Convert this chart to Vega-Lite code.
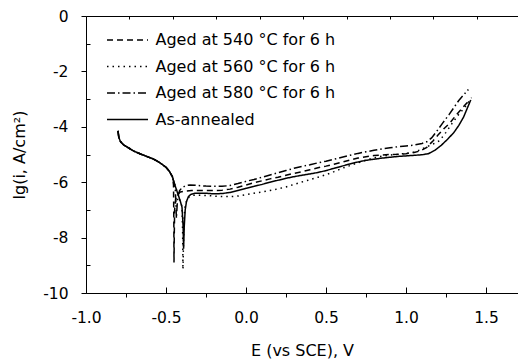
{
"$schema": "https://vega.github.io/schema/vega-lite/v6.json",
"width": 432, "height": 277,
"autosize": {"type": "none"},
"padding": {"left": 86, "top": 16, "right": 0, "bottom": 71},
"config": {
 "view": {"stroke": null},
 "font": "DejaVu Sans",
 "axis": {"grid": false, "domainColor": "#000", "tickColor": "#000", "labelColor": "#000", "titleColor": "#000", "labelFont": "DejaVu Sans", "titleFont": "DejaVu Sans", "labelFontSize": 15.5, "titleFontSize": 16, "titleFontWeight": "normal", "domainWidth": 1, "tickWidth": 1}
},
"data": {"values": [
{"s":"AA","i":0,"E":-0.800,"lg":-4.15},{"s":"AA","i":1,"E":-0.795,"lg":-4.38},{"s":"AA","i":2,"E":-0.785,"lg":-4.53},{"s":"AA","i":3,"E":-0.765,"lg":-4.65},{"s":"AA","i":4,"E":-0.740,"lg":-4.74},{"s":"AA","i":5,"E":-0.700,"lg":-4.88},{"s":"AA","i":6,"E":-0.660,"lg":-4.98},{"s":"AA","i":7,"E":-0.620,"lg":-5.07},{"s":"AA","i":8,"E":-0.580,"lg":-5.16},{"s":"AA","i":9,"E":-0.540,"lg":-5.29},{"s":"AA","i":10,"E":-0.500,"lg":-5.46},{"s":"AA","i":11,"E":-0.480,"lg":-5.60},{"s":"AA","i":12,"E":-0.460,"lg":-5.80},
{"s":"AA","i":13,"E":-0.450,"lg":-6.00},{"s":"AA","i":14,"E":-0.440,"lg":-6.18},{"s":"AA","i":15,"E":-0.430,"lg":-6.35},{"s":"AA","i":16,"E":-0.420,"lg":-6.52},{"s":"AA","i":17,"E":-0.410,"lg":-6.70},{"s":"AA","i":18,"E":-0.400,"lg":-6.90},{"s":"AA","i":19,"E":-0.393,"lg":-7.60},{"s":"AA","i":20,"E":-0.390,"lg":-8.40},{"s":"AA","i":21,"E":-0.386,"lg":-7.60},{"s":"AA","i":22,"E":-0.380,"lg":-7.00},{"s":"AA","i":23,"E":-0.372,"lg":-6.70},{"s":"AA","i":24,"E":-0.360,"lg":-6.52},{"s":"AA","i":25,"E":-0.345,"lg":-6.44},{"s":"AA","i":26,"E":-0.320,"lg":-6.40},{"s":"AA","i":27,"E":-0.250,"lg":-6.40},{"s":"AA","i":28,"E":-0.200,"lg":-6.42},{"s":"AA","i":29,"E":-0.150,"lg":-6.41},{"s":"AA","i":30,"E":-0.100,"lg":-6.37},{"s":"AA","i":31,"E":-0.050,"lg":-6.30},{"s":"AA","i":32,"E":0.000,"lg":-6.22},{"s":"AA","i":33,"E":0.050,"lg":-6.15},{"s":"AA","i":34,"E":0.100,"lg":-6.08},{"s":"AA","i":35,"E":0.150,"lg":-6.00},{"s":"AA","i":36,"E":0.200,"lg":-5.93},{"s":"AA","i":37,"E":0.250,"lg":-5.86},{"s":"AA","i":38,"E":0.300,"lg":-5.80},{"s":"AA","i":39,"E":0.350,"lg":-5.75},{"s":"AA","i":40,"E":0.400,"lg":-5.70},{"s":"AA","i":41,"E":0.450,"lg":-5.65},{"s":"AA","i":42,"E":0.500,"lg":-5.58},{"s":"AA","i":43,"E":0.550,"lg":-5.50},{"s":"AA","i":44,"E":0.600,"lg":-5.42},{"s":"AA","i":45,"E":0.650,"lg":-5.34},{"s":"AA","i":46,"E":0.700,"lg":-5.27},{"s":"AA","i":47,"E":0.750,"lg":-5.21},{"s":"AA","i":48,"E":0.800,"lg":-5.17},{"s":"AA","i":49,"E":0.850,"lg":-5.13},{"s":"AA","i":50,"E":0.900,"lg":-5.10},{"s":"AA","i":51,"E":0.950,"lg":-5.07},{"s":"AA","i":52,"E":1.000,"lg":-5.05},{"s":"AA","i":53,"E":1.050,"lg":-5.03},{"s":"AA","i":54,"E":1.100,"lg":-5.01},{"s":"AA","i":55,"E":1.140,"lg":-4.97},{"s":"AA","i":56,"E":1.180,"lg":-4.85},{"s":"AA","i":57,"E":1.220,"lg":-4.67},{"s":"AA","i":58,"E":1.260,"lg":-4.45},{"s":"AA","i":59,"E":1.300,"lg":-4.20},{"s":"AA","i":60,"E":1.330,"lg":-3.95},{"s":"AA","i":61,"E":1.360,"lg":-3.65},{"s":"AA","i":62,"E":1.385,"lg":-3.30},{"s":"AA","i":63,"E":1.405,"lg":-3.03},
{"s":"540","i":0,"E":-0.800,"lg":-4.15},{"s":"540","i":1,"E":-0.795,"lg":-4.38},{"s":"540","i":2,"E":-0.785,"lg":-4.53},{"s":"540","i":3,"E":-0.765,"lg":-4.65},{"s":"540","i":4,"E":-0.740,"lg":-4.74},{"s":"540","i":5,"E":-0.700,"lg":-4.88},{"s":"540","i":6,"E":-0.660,"lg":-4.98},{"s":"540","i":7,"E":-0.620,"lg":-5.07},{"s":"540","i":8,"E":-0.580,"lg":-5.16},{"s":"540","i":9,"E":-0.540,"lg":-5.29},{"s":"540","i":10,"E":-0.500,"lg":-5.46},{"s":"540","i":11,"E":-0.480,"lg":-5.60},{"s":"540","i":12,"E":-0.460,"lg":-5.80},
{"s":"540","i":13,"E":-0.453,"lg":-6.10},{"s":"540","i":14,"E":-0.451,"lg":-7.50},{"s":"540","i":15,"E":-0.450,"lg":-8.90},{"s":"540","i":16,"E":-0.448,"lg":-7.80},{"s":"540","i":17,"E":-0.446,"lg":-7.00},{"s":"540","i":18,"E":-0.440,"lg":-6.62},{"s":"540","i":19,"E":-0.430,"lg":-6.45},{"s":"540","i":20,"E":-0.410,"lg":-6.35},{"s":"540","i":21,"E":-0.380,"lg":-6.32},{"s":"540","i":22,"E":-0.340,"lg":-6.30},{"s":"540","i":23,"E":-0.250,"lg":-6.30},{"s":"540","i":24,"E":-0.200,"lg":-6.30},{"s":"540","i":25,"E":-0.150,"lg":-6.29},{"s":"540","i":26,"E":-0.100,"lg":-6.25},{"s":"540","i":27,"E":-0.050,"lg":-6.18},{"s":"540","i":28,"E":0.000,"lg":-6.10},{"s":"540","i":29,"E":0.050,"lg":-6.02},{"s":"540","i":30,"E":0.100,"lg":-5.95},{"s":"540","i":31,"E":0.150,"lg":-5.88},{"s":"540","i":32,"E":0.200,"lg":-5.82},{"s":"540","i":33,"E":0.250,"lg":-5.75},{"s":"540","i":34,"E":0.300,"lg":-5.68},{"s":"540","i":35,"E":0.350,"lg":-5.62},{"s":"540","i":36,"E":0.400,"lg":-5.55},{"s":"540","i":37,"E":0.450,"lg":-5.48},{"s":"540","i":38,"E":0.500,"lg":-5.42},{"s":"540","i":39,"E":0.550,"lg":-5.35},{"s":"540","i":40,"E":0.600,"lg":-5.28},{"s":"540","i":41,"E":0.650,"lg":-5.20},{"s":"540","i":42,"E":0.700,"lg":-5.13},{"s":"540","i":43,"E":0.750,"lg":-5.08},{"s":"540","i":44,"E":0.800,"lg":-5.04},{"s":"540","i":45,"E":0.850,"lg":-5.02},{"s":"540","i":46,"E":0.900,"lg":-5.00},{"s":"540","i":47,"E":0.950,"lg":-4.99},{"s":"540","i":48,"E":1.000,"lg":-4.97},{"s":"540","i":49,"E":1.050,"lg":-4.93},{"s":"540","i":50,"E":1.090,"lg":-4.87},{"s":"540","i":51,"E":1.130,"lg":-4.74},{"s":"540","i":52,"E":1.170,"lg":-4.50},{"s":"540","i":53,"E":1.200,"lg":-4.30},{"s":"540","i":54,"E":1.240,"lg":-4.05},{"s":"540","i":55,"E":1.275,"lg":-3.86},{"s":"540","i":56,"E":1.310,"lg":-3.60},{"s":"540","i":57,"E":1.340,"lg":-3.40},{"s":"540","i":58,"E":1.370,"lg":-3.20},{"s":"540","i":59,"E":1.400,"lg":-3.03},
{"s":"560","i":0,"E":-0.800,"lg":-4.15},{"s":"560","i":1,"E":-0.795,"lg":-4.38},{"s":"560","i":2,"E":-0.785,"lg":-4.53},{"s":"560","i":3,"E":-0.765,"lg":-4.65},{"s":"560","i":4,"E":-0.740,"lg":-4.74},{"s":"560","i":5,"E":-0.700,"lg":-4.88},{"s":"560","i":6,"E":-0.660,"lg":-4.98},{"s":"560","i":7,"E":-0.620,"lg":-5.07},{"s":"560","i":8,"E":-0.580,"lg":-5.16},{"s":"560","i":9,"E":-0.540,"lg":-5.29},{"s":"560","i":10,"E":-0.500,"lg":-5.46},{"s":"560","i":11,"E":-0.480,"lg":-5.60},{"s":"560","i":12,"E":-0.460,"lg":-5.80},
{"s":"560","i":13,"E":-0.450,"lg":-6.00},{"s":"560","i":14,"E":-0.440,"lg":-6.18},{"s":"560","i":15,"E":-0.430,"lg":-6.35},{"s":"560","i":16,"E":-0.420,"lg":-6.52},{"s":"560","i":17,"E":-0.410,"lg":-6.70},{"s":"560","i":18,"E":-0.400,"lg":-6.88},{"s":"560","i":19,"E":-0.396,"lg":-7.80},{"s":"560","i":20,"E":-0.394,"lg":-9.15},{"s":"560","i":21,"E":-0.390,"lg":-8.00},{"s":"560","i":22,"E":-0.386,"lg":-7.20},{"s":"560","i":23,"E":-0.380,"lg":-6.85},{"s":"560","i":24,"E":-0.370,"lg":-6.65},{"s":"560","i":25,"E":-0.355,"lg":-6.53},{"s":"560","i":26,"E":-0.330,"lg":-6.47},{"s":"560","i":27,"E":-0.250,"lg":-6.48},{"s":"560","i":28,"E":-0.200,"lg":-6.50},{"s":"560","i":29,"E":-0.150,"lg":-6.52},{"s":"560","i":30,"E":-0.100,"lg":-6.52},{"s":"560","i":31,"E":-0.050,"lg":-6.50},{"s":"560","i":32,"E":0.000,"lg":-6.45},{"s":"560","i":33,"E":0.050,"lg":-6.40},{"s":"560","i":34,"E":0.100,"lg":-6.35},{"s":"560","i":35,"E":0.150,"lg":-6.30},{"s":"560","i":36,"E":0.200,"lg":-6.24},{"s":"560","i":37,"E":0.250,"lg":-6.17},{"s":"560","i":38,"E":0.300,"lg":-6.08},{"s":"560","i":39,"E":0.350,"lg":-5.99},{"s":"560","i":40,"E":0.400,"lg":-5.91},{"s":"560","i":41,"E":0.450,"lg":-5.82},{"s":"560","i":42,"E":0.500,"lg":-5.73},{"s":"560","i":43,"E":0.550,"lg":-5.62},{"s":"560","i":44,"E":0.600,"lg":-5.50},{"s":"560","i":45,"E":0.650,"lg":-5.40},{"s":"560","i":46,"E":0.700,"lg":-5.30},{"s":"560","i":47,"E":0.750,"lg":-5.20},{"s":"560","i":48,"E":0.800,"lg":-5.12},{"s":"560","i":49,"E":0.850,"lg":-5.06},{"s":"560","i":50,"E":0.900,"lg":-5.02},{"s":"560","i":51,"E":0.950,"lg":-4.99},{"s":"560","i":52,"E":1.000,"lg":-4.96},{"s":"560","i":53,"E":1.050,"lg":-4.91},{"s":"560","i":54,"E":1.090,"lg":-4.83},{"s":"560","i":55,"E":1.130,"lg":-4.72},{"s":"560","i":56,"E":1.170,"lg":-4.62},{"s":"560","i":57,"E":1.210,"lg":-4.50},{"s":"560","i":58,"E":1.250,"lg":-4.20},{"s":"560","i":59,"E":1.290,"lg":-3.86},{"s":"560","i":60,"E":1.330,"lg":-3.55},{"s":"560","i":61,"E":1.360,"lg":-3.35},{"s":"560","i":62,"E":1.380,"lg":-3.20},{"s":"560","i":63,"E":1.410,"lg":-2.95},
{"s":"580","i":0,"E":-0.800,"lg":-4.15},{"s":"580","i":1,"E":-0.795,"lg":-4.38},{"s":"580","i":2,"E":-0.785,"lg":-4.53},{"s":"580","i":3,"E":-0.765,"lg":-4.65},{"s":"580","i":4,"E":-0.740,"lg":-4.74},{"s":"580","i":5,"E":-0.700,"lg":-4.88},{"s":"580","i":6,"E":-0.660,"lg":-4.98},{"s":"580","i":7,"E":-0.620,"lg":-5.07},{"s":"580","i":8,"E":-0.580,"lg":-5.16},{"s":"580","i":9,"E":-0.540,"lg":-5.29},{"s":"580","i":10,"E":-0.500,"lg":-5.46},{"s":"580","i":11,"E":-0.480,"lg":-5.60},{"s":"580","i":12,"E":-0.460,"lg":-5.80},
{"s":"580","i":13,"E":-0.450,"lg":-6.00},{"s":"580","i":14,"E":-0.442,"lg":-6.25},{"s":"580","i":15,"E":-0.438,"lg":-6.80},{"s":"580","i":16,"E":-0.435,"lg":-7.30},{"s":"580","i":17,"E":-0.430,"lg":-6.80},{"s":"580","i":18,"E":-0.425,"lg":-6.50},{"s":"580","i":19,"E":-0.415,"lg":-6.30},{"s":"580","i":20,"E":-0.400,"lg":-6.20},{"s":"580","i":21,"E":-0.380,"lg":-6.13},{"s":"580","i":22,"E":-0.350,"lg":-6.10},{"s":"580","i":23,"E":-0.300,"lg":-6.12},{"s":"580","i":24,"E":-0.250,"lg":-6.14},{"s":"580","i":25,"E":-0.200,"lg":-6.15},{"s":"580","i":26,"E":-0.150,"lg":-6.15},{"s":"580","i":27,"E":-0.100,"lg":-6.12},{"s":"580","i":28,"E":-0.050,"lg":-6.05},{"s":"580","i":29,"E":0.000,"lg":-5.97},{"s":"580","i":30,"E":0.050,"lg":-5.90},{"s":"580","i":31,"E":0.100,"lg":-5.82},{"s":"580","i":32,"E":0.150,"lg":-5.74},{"s":"580","i":33,"E":0.200,"lg":-5.66},{"s":"580","i":34,"E":0.250,"lg":-5.58},{"s":"580","i":35,"E":0.300,"lg":-5.50},{"s":"580","i":36,"E":0.350,"lg":-5.43},{"s":"580","i":37,"E":0.400,"lg":-5.37},{"s":"580","i":38,"E":0.450,"lg":-5.30},{"s":"580","i":39,"E":0.500,"lg":-5.24},{"s":"580","i":40,"E":0.550,"lg":-5.17},{"s":"580","i":41,"E":0.600,"lg":-5.10},{"s":"580","i":42,"E":0.650,"lg":-5.03},{"s":"580","i":43,"E":0.700,"lg":-4.96},{"s":"580","i":44,"E":0.750,"lg":-4.90},{"s":"580","i":45,"E":0.800,"lg":-4.85},{"s":"580","i":46,"E":0.850,"lg":-4.80},{"s":"580","i":47,"E":0.900,"lg":-4.76},{"s":"580","i":48,"E":0.950,"lg":-4.72},{"s":"580","i":49,"E":1.000,"lg":-4.69},{"s":"580","i":50,"E":1.050,"lg":-4.66},{"s":"580","i":51,"E":1.100,"lg":-4.60},{"s":"580","i":52,"E":1.130,"lg":-4.54},{"s":"580","i":53,"E":1.160,"lg":-4.40},{"s":"580","i":54,"E":1.190,"lg":-4.18},{"s":"580","i":55,"E":1.230,"lg":-3.86},{"s":"580","i":56,"E":1.270,"lg":-3.55},{"s":"580","i":57,"E":1.300,"lg":-3.30},{"s":"580","i":58,"E":1.330,"lg":-3.05},{"s":"580","i":59,"E":1.360,"lg":-2.85},{"s":"580","i":60,"E":1.390,"lg":-2.65}
]},
"layer": [
 {
  "mark": {"type": "line", "color": "#000", "strokeWidth": 1.5},
  "encoding": {
   "x": {"field": "E", "type": "quantitative",
     "scale": {"domain": [-1, 1.7], "nice": false, "zero": false},
     "axis": {"orient": "bottom", "values": [-1, -0.75, -0.5, -0.25, 0, 0.25, 0.5, 0.75, 1, 1.25, 1.5],
       "format": ".1f", "labelExpr": "datum.value % 0.5 === 0 ? replace(datum.label, '−', '-') : ''",
       "labelOverlap": false, "labelFlush": false,
       "tickSize": {"condition": {"test": "datum.value % 0.5 !== 0", "value": 4}, "value": -6},
       "labelPadding": 23, "title": "E (vs SCE), V", "titlePadding": 7}},
   "y": {"field": "lg", "type": "quantitative",
     "scale": {"domain": [-10, 0], "nice": false, "zero": false},
     "axis": {"values": [-10, -9, -8, -7, -6, -5, -4, -3, -2, -1, 0], "format": "d",
       "labelExpr": "datum.value % 2 === 0 ? replace(datum.label, '−', '-') : ''",
       "labelOverlap": false, "labelFlush": false,
       "tickSize": {"condition": {"test": "datum.value % 2 !== 0", "value": -4}, "value": 5},
       "labelPadding": 13, "title": "lg(i, A/cm²)", "titlePadding": 15}},
   "strokeDash": {"field": "s", "type": "nominal",
     "scale": {"domain": ["540", "560", "580", "AA"], "range": [[6, 4], [1.5, 4], [8, 3, 1.5, 3], [1, 0]]},
     "legend": {"orient": "none", "legendX": 30.5, "legendY": 13, "title": null,
       "symbolType": "M-2,0H2", "symbolSize": 420, "symbolStrokeWidth": 1.4, "symbolStrokeColor": "#000", "symbolFillColor": "transparent",
       "labelFont": "DejaVu Sans", "labelFontSize": 16, "labelColor": "#000", "labelOffset": 17, "labelLimit": 400,
       "rowPadding": 7.5,
       "labelExpr": "datum.value == '540' ? 'Aged at 540 °C for 6 h' : datum.value == '560' ? 'Aged at 560 °C for 6 h' : datum.value == '580' ? 'Aged at 580 °C for 6 h' : 'As-annealed'"}},
   "order": {"field": "i", "type": "quantitative"}
  }
 },
 {
  "data": {"values": [{"E": -1}]},
  "mark": {"type": "rule", "opacity": 0},
  "encoding": {
   "x": {"field": "E", "type": "quantitative",
     "axis": {"orient": "top", "values": [-1, -0.7286, -0.4571, -0.1857, 0.0857, 0.3571, 0.6286, 0.9, 1.1714, 1.4429], "labels": false, "tickSize": -3, "title": null}}
  }
 }
],
"resolve": {"axis": {"x": "independent"}}
}
